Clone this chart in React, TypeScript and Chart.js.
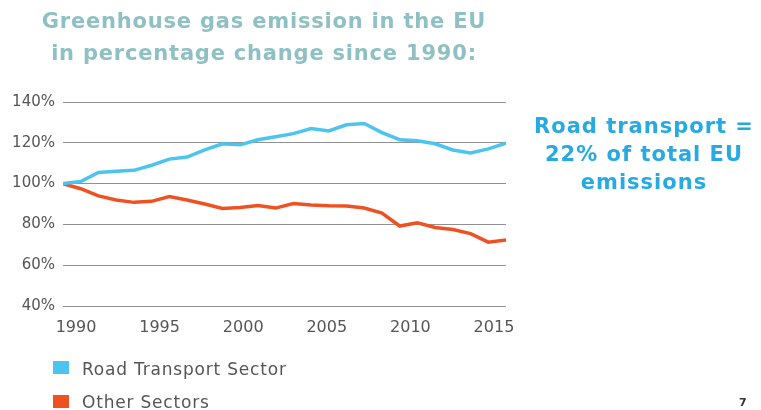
import React, { useEffect, useRef } from "react";
import { Chart, registerables } from "chart.js";

Chart.register(...registerables);

const years = [1990, 1991, 1992, 1993, 1994, 1995, 1996, 1997, 1998, 1999, 2000, 2001, 2002, 2003, 2004, 2005, 2006, 2007, 2008, 2009, 2010, 2011, 2012, 2013, 2014, 2015];
const roadTransport = [100, 101, 105.5, 106, 106.5, 109, 112, 113, 116.5, 119.5, 119, 121.5, 123, 124.5, 127, 125.8, 128.8, 129.5, 125, 121.5, 121, 119.5, 116.5, 115, 117, 119.8];
const otherSectors = [100, 97.5, 94, 92, 90.8, 91.3, 93.7, 92, 90, 87.8, 88.3, 89.2, 88, 90.2, 89.5, 89.1, 89, 88, 85.5, 79.2, 80.8, 78.5, 77.5, 75.5, 71.3, 72.3];
const yearTicks = [1990, 1995, 2000, 2005, 2010, 2015];
const seriesNames = ["Road Transport Sector", "Other Sectors"];
const seriesColors = ["#4DC4EE", "#EF5222"];
const titleLines = ["Greenhouse gas emission in the EU", "in percentage change since 1990:"];
const noteLines = ["Road transport =", "22% of total EU", "emissions"];

export default function App() {
  const canvasRef = useRef<HTMLCanvasElement | null>(null);

  useEffect(() => {
    const canvas = canvasRef.current;
    if (!canvas) return;
    const yFont = { family: "'DejaVu Sans', sans-serif", size: 15 };
    const xFont = { family: "'DejaVu Sans', sans-serif", size: 16 };
    const chart = new Chart(canvas, {
      type: "line",
      data: {
        datasets: [roadTransport, otherSectors].map((series, i) => ({
          label: seriesNames[i],
          data: years.map((y, j) => ({ x: y, y: series[j] })),
          borderColor: seriesColors[i],
          backgroundColor: seriesColors[i],
          borderWidth: 3.5,
          pointRadius: 0,
          tension: 0,
          xAxisID: "x",
          yAxisID: "y",
        })),
      },
      options: {
        animation: false,
        responsive: false,
        maintainAspectRatio: false,
        layout: { padding: { left: 0, right: 255, top: 102, bottom: 74 } },
        plugins: { legend: { display: false }, tooltip: { enabled: false } },
        scales: {
          x: { type: "linear", min: 1990, max: 2015, display: false },
          xl: {
            type: "linear",
            position: "bottom",
            min: 1989.22,
            max: 2015.72,
            afterBuildTicks: (a: any) => {
              a.ticks = yearTicks.map((v) => ({ value: v }));
            },
            afterFit: (a: any) => {
              a.height = 30;
            },
            grid: { display: false },
            border: { display: false },
            ticks: {
              font: xFont,
              color: "#555555",
              padding: 4,
              maxRotation: 0,
              autoSkip: false,
              callback: (v: any) => String(v),
            },
          },
          y: {
            min: 40,
            max: 140,
            afterFit: (a: any) => {
              a.width = 63;
            },
            grid: { color: "#909090", lineWidth: 1, drawTicks: false },
            border: { display: false },
            ticks: {
              stepSize: 20,
              font: yFont,
              color: "#555555",
              padding: 8,
              callback: (v: any) => v + "%",
            },
          },
        },
      },
    } as any);
    return () => chart.destroy();
  }, []);

  const base: React.CSSProperties = {
    position: "absolute",
    fontFamily: "'DejaVu Sans', sans-serif",
    whiteSpace: "nowrap",
  };

  return (
    <div style={{ position: "fixed", left: 0, top: 0, width: 761, height: 410, background: "#ffffff", overflow: "hidden" }}>
      <canvas ref={canvasRef} width={761} height={410} style={{ position: "absolute", left: 0, top: 0, display: "block" }} />
      <div style={{ ...base, left: 0, width: 528, top: 5, textAlign: "center", fontSize: 21, letterSpacing: "0.8px", lineHeight: "32px", fontWeight: "bold", color: "#8FC0C3" }}>
        {titleLines.map((t) => (
          <div key={t}>{t}</div>
        ))}
      </div>
      <div style={{ ...base, left: 528, width: 232, top: 112, textAlign: "center", fontSize: 21, letterSpacing: "1px", lineHeight: "28px", fontWeight: "bold", color: "#27A9E1" }}>
        {noteLines.map((t) => (
          <div key={t}>{t}</div>
        ))}
      </div>
      {seriesNames.map((name, i) => (
        <React.Fragment key={name}>
          <div style={{ position: "absolute", left: 53, top: i === 0 ? 361 : 395, width: 16, height: 13, background: seriesColors[i] }} />
          <div style={{ ...base, left: 82, top: i === 0 ? 358 : 391, fontSize: 17, letterSpacing: "0.8px", lineHeight: "22px", color: "#555555" }}>{name}</div>
        </React.Fragment>
      ))}
      <div style={{ ...base, left: 739, top: 396, fontSize: 11, lineHeight: "14px", fontWeight: "bold", color: "#333333" }}>7</div>
    </div>
  );
}
